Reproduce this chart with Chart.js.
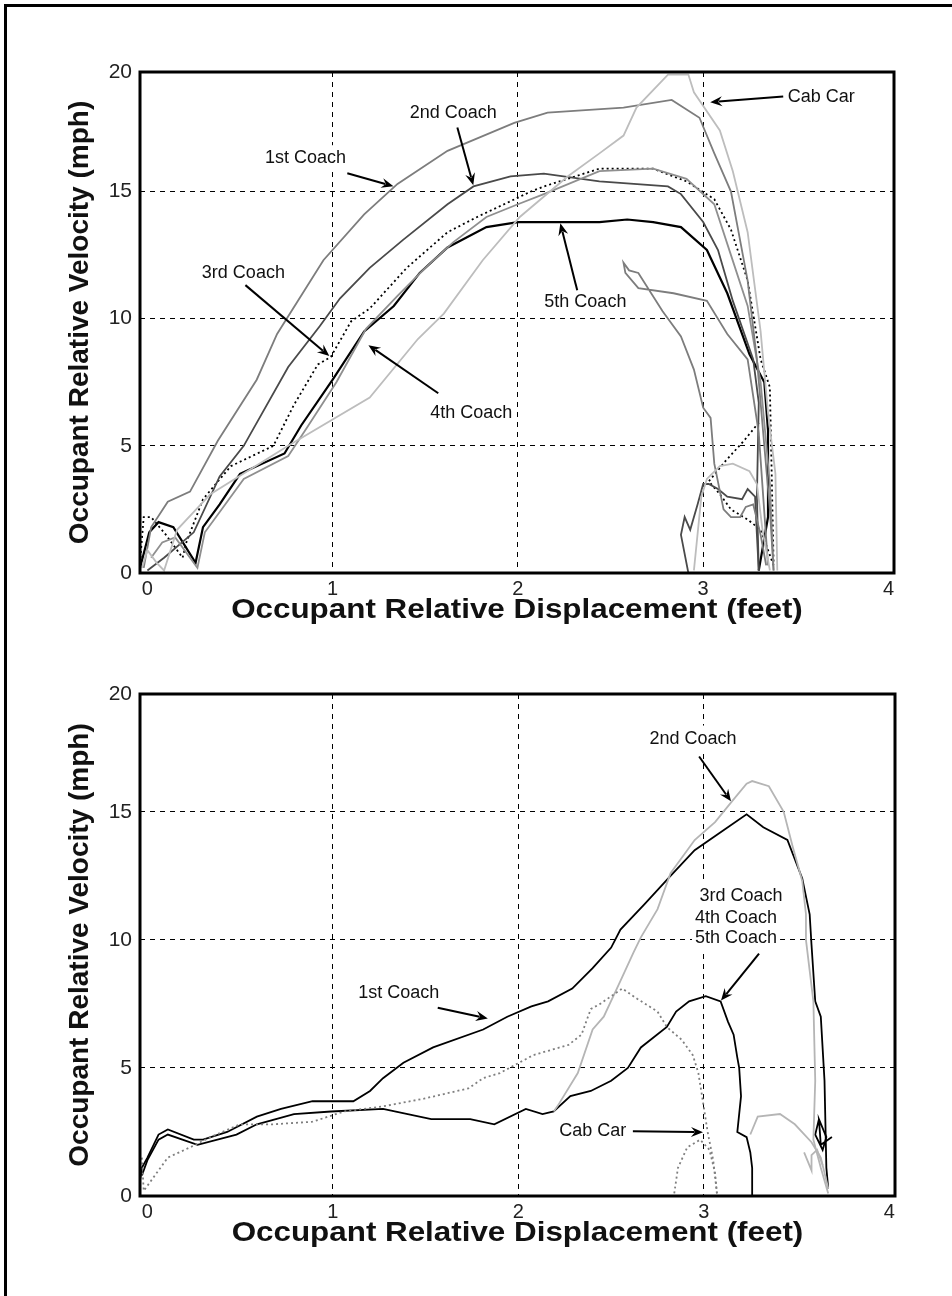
<!DOCTYPE html>
<html>
<head>
<meta charset="utf-8">
<script src="https://cdn.jsdelivr.net/npm/chart.js@4.4.0/dist/chart.umd.min.js"></script>
<style>
  body { margin: 0; background: #fff; }
  #page { position: relative; width: 952px; height: 1296px; overflow: hidden; background: #fff; }
  #frame { position: absolute; left: 4px; top: 4px; width: 1000px; height: 1400px; border: 3px solid #000; box-sizing: border-box; }
  canvas { position: absolute; left: 0; }
  #topChart { top: 0; }
  #bottomChart { top: 640px; }
</style>
</head>
<body>
<div id="page">
  <div id="frame"></div>
  <canvas id="topChart" width="952" height="640"></canvas>
  <canvas id="bottomChart" width="952" height="656"></canvas>
</div>
<script>
// ---- upper panel: displacement (ft) / velocity (mph) ----
const top1X = [-0.02, 0.02, 0.11, 0.23, 0.38, 0.59, 0.70, 0.95, 1.17, 1.35, 1.62, 1.98, 2.16, 2.57, 2.83, 2.98, 3.06, 3.15, 3.24, 3.29, 3.33, 3.36, 3.38];
const top1Y = [0.2, 1.8, 2.8, 3.2, 5.2, 7.6, 9.4, 12.3, 14.1, 15.3, 16.6, 17.7, 18.1, 18.3, 18.6, 17.9, 16.5, 15.0, 11.5, 8.4, 5.0, 2.5, 0.1];
const top1bX = [3.35, 3.30, 3.24, 3.13, 3.02, 2.84, 2.65, 2.58, 2.57, 2.60, 2.65, 2.78, 2.88, 2.95, 3.00, 3.04, 3.06, 3.11, 3.15, 3.20, 3.23, 3.27, 3.31, 3.34];
const top1bY = [0.3, 5.5, 8.4, 9.4, 10.7, 11.0, 11.2, 11.8, 12.2, 11.9, 11.8, 10.3, 9.3, 8.0, 6.5, 6.1, 4.3, 2.5, 2.2, 2.2, 2.6, 2.7, 1.5, 0.3];

const top2X = [0.00, 0.09, 0.25, 0.39, 0.52, 0.76, 0.93, 1.04, 1.20, 1.38, 1.62, 1.76, 1.96, 2.14, 2.44, 2.81, 2.88, 3.00, 3.08, 3.16, 3.27, 3.30, 3.29, 3.30];
const top2Y = [0.1, 0.6, 1.6, 3.8, 5.0, 8.1, 9.7, 10.8, 12.0, 13.1, 14.5, 15.2, 15.6, 15.7, 15.4, 15.2, 14.9, 13.8, 12.7, 10.7, 8.4, 6.7, 3.0, 0.1];
const top2bX = [2.92, 2.88, 2.90, 2.93, 2.97, 3.00, 3.03, 3.08, 3.13, 3.21, 3.24, 3.28, 3.29, 3.30];
const top2bY = [0.0, 1.5, 2.2, 1.7, 2.7, 3.5, 3.5, 3.3, 3.0, 2.9, 3.3, 3.0, 1.5, 0.1];

const top3X = [-0.04, -0.02, 0.02, 0.10, 0.19, 0.21, 0.30, 0.45, 0.68, 0.79, 0.92, 0.99, 1.10, 1.20, 1.40, 1.62, 1.78, 2.07, 2.14, 2.44, 2.73, 2.80, 2.91, 3.06, 3.15, 3.24, 3.31, 3.36, 3.38];
const top3Y = [0.4, 2.2, 2.2, 1.5, 0.6, 1.2, 2.9, 4.2, 5.0, 6.6, 8.2, 8.5, 9.9, 10.4, 12.0, 13.4, 14.0, 15.0, 15.2, 15.9, 15.9, 15.7, 15.4, 14.7, 13.5, 11.5, 8.4, 7.3, 0.4];
const top3bX = [3.38, 3.31, 3.24, 3.15, 3.09, 3.03, 3.12, 3.22, 3.31];
const top3bY = [0.3, 1.7, 2.1, 2.5, 3.1, 3.6, 4.4, 5.2, 6.0];

const top4X = [0.02, 0.08, 0.15, 0.27, 0.31, 0.40, 0.52, 0.76, 0.86, 1.02, 1.18, 1.35, 1.50, 1.65, 1.83, 2.00, 2.14, 2.44, 2.73, 2.91, 3.06, 3.15, 3.24, 3.31, 3.36, 3.38];
const top4Y = [0.6, 1.2, 1.4, 0.2, 1.6, 2.5, 3.7, 4.6, 5.7, 7.5, 9.6, 10.9, 12.0, 13.0, 14.0, 14.5, 14.9, 15.8, 15.9, 15.5, 14.5, 12.5, 10.5, 7.5, 3.5, 0.1];

const top5X = [-0.04, 0.01, 0.06, 0.14, 0.26, 0.30, 0.39, 0.50, 0.74, 0.83, 1.00, 1.17, 1.33, 1.47, 1.62, 1.83, 2.00, 2.44, 2.59, 2.73, 2.88, 3.02, 3.13, 3.25, 3.33, 3.35, 3.35, 3.30];
const top5Y = [0.2, 1.6, 2.0, 1.8, 0.4, 1.8, 2.7, 3.9, 4.7, 5.8, 7.6, 9.5, 10.5, 11.8, 12.8, 13.6, 13.8, 13.8, 13.9, 13.8, 13.6, 12.7, 11.0, 8.6, 7.5, 5.6, 2.2, 0.1];

const topCabX = [-0.03, 0.00, 0.05, 0.09, 0.16, 0.34, 0.76, 1.20, 1.46, 1.60, 1.81, 2.01, 2.27, 2.44, 2.57, 2.64, 2.81, 2.92, 2.95, 3.09, 3.16, 3.24, 3.31, 3.35, 3.39, 3.40];
const topCabY = [0.2, 0.9, 0.4, 0.1, 1.7, 3.1, 5.0, 6.9, 9.2, 10.2, 12.3, 14.0, 15.6, 16.5, 17.2, 18.3, 19.6, 19.6, 18.9, 17.4, 15.8, 13.4, 9.5, 6.3, 3.9, 0.1];
const topCabbX = [2.95, 2.99, 3.02, 3.09, 3.16, 3.25, 3.29, 3.32, 3.36];
const topCabbY = [0.1, 3.0, 3.7, 4.2, 4.3, 4.0, 3.5, 1.7, 0.1];

// ---- lower panel ----
const bot1X = [-0.05, -0.03, 0.00, 0.06, 0.11, 0.25, 0.30, 0.43, 0.59, 0.72, 0.89, 1.11, 1.20, 1.27, 1.38, 1.54, 1.81, 1.94, 2.07, 2.16, 2.29, 2.40, 2.50, 2.55, 2.68, 2.82, 2.95, 3.09, 3.23, 3.32, 3.45, 3.53, 3.57, 3.58, 3.60, 3.63, 3.65, 3.66, 3.67];
const bot1Y = [0.1, 1.1, 1.5, 2.4, 2.6, 2.2, 2.2, 2.5, 3.1, 3.4, 3.7, 3.7, 4.1, 4.6, 5.2, 5.8, 6.5, 7.0, 7.4, 7.6, 8.1, 8.9, 9.7, 10.4, 11.4, 12.5, 13.5, 14.2, 14.9, 14.4, 13.9, 12.4, 11.0, 9.8, 7.6, 7.0, 4.5, 1.1, 0.3];
const bot1bX = [3.62, 3.60, 3.64, 3.66, 3.62, 3.63, 3.69];
const bot1bY = [3.0, 2.4, 1.8, 2.3, 3.0, 2.0, 2.3];

const bot2X = [2.19, 2.21, 2.32, 2.40, 2.46, 2.55, 2.62, 2.66, 2.75, 2.82, 2.95, 3.06, 3.15, 3.23, 3.26, 3.35, 3.43, 3.48, 3.53, 3.55, 3.55, 3.59, 3.60, 3.59, 3.63, 3.67];
const bot2Y = [3.3, 3.5, 4.8, 6.5, 7.0, 8.4, 9.5, 10.1, 11.2, 12.6, 13.9, 14.6, 15.4, 16.1, 16.2, 16.0, 15.0, 13.6, 12.3, 11.0, 10.0, 7.6, 4.5, 2.2, 1.1, 0.1];
const bot2bX = [3.25, 3.29, 3.41, 3.49, 3.58, 3.63, 3.67];
const bot2bY = [2.4, 3.1, 3.2, 2.8, 2.1, 1.5, 0.3];
const bot2cX = [3.54, 3.58, 3.58, 3.61, 3.64];
const bot2cY = [1.7, 1.0, 1.6, 1.8, 1.2];

const bot345X = [-0.03, 0.00, 0.06, 0.11, 0.27, 0.48, 0.59, 0.79, 0.99, 1.27, 1.53, 1.74, 1.87, 2.04, 2.13, 2.19, 2.28, 2.39, 2.50, 2.59, 2.66, 2.80, 2.85, 2.92, 3.01, 3.09, 3.13, 3.16, 3.18, 3.19, 3.20, 3.18, 3.23, 3.25, 3.26, 3.26];
const bot345Y = [0.8, 1.4, 2.2, 2.4, 2.0, 2.4, 2.8, 3.2, 3.3, 3.4, 3.0, 3.0, 2.8, 3.4, 3.2, 3.3, 3.9, 4.1, 4.5, 5.0, 5.8, 6.6, 7.2, 7.6, 7.8, 7.6, 6.8, 6.3, 5.4, 5.0, 3.9, 2.5, 2.3, 1.7, 1.1, 0.0];

const botCabX = [-0.03, -0.02, 0.02, 0.11, 0.23, 0.34, 0.50, 0.68, 0.89, 1.06, 1.27, 1.49, 1.73, 1.81, 1.90, 2.08, 2.27, 2.34, 2.39, 2.44, 2.56, 2.64, 2.75, 2.80, 2.88, 2.94, 2.97, 2.99, 3.02, 3.05, 3.07];
const botCabY = [1.5, 0.2, 0.6, 1.5, 1.9, 2.3, 2.8, 2.8, 2.9, 3.3, 3.5, 3.8, 4.2, 4.6, 4.8, 5.5, 5.9, 6.3, 7.3, 7.5, 8.1, 7.7, 7.2, 6.6, 6.1, 5.5, 4.8, 3.9, 2.5, 1.4, 0.1];
const botCabbX = [2.84, 2.86, 2.91, 2.98, 3.03, 3.06, 3.07];
const botCabbY = [0.1, 1.1, 1.9, 2.2, 1.8, 0.9, 0.1];

// axis ticks and titles
const xTicks = [0, 1, 2, 3, 4];
const yTicks = [0, 5, 10, 15, 20];
const xTitleText = 'Occupant Relative Displacement (feet)';
const yTitleText = 'Occupant Relative Velocity (mph)';

// callout labels (text, x, y in data units) and arrows (from -> to)
const topLabelText = ['1st Coach', '2nd Coach', '3rd Coach', '4th Coach', '5th Coach', 'Cab Car'];
const topLabelX = [0.853, 1.651, 0.518, 1.748, 2.364, 3.637];
const topLabelY = [16.31, 18.07, 11.79, 6.29, 10.65, 18.70];
const topArrowFrom = [[1.079, 15.72], [1.673, 17.52], [0.529, 11.32], [1.570, 7.07], [2.320, 11.12], [3.432, 18.74]];
const topArrowTo = [[1.328, 15.21], [1.759, 15.25], [0.982, 8.53], [1.193, 8.96], [2.229, 13.75], [3.038, 18.51]];

const botLabelText = ['2nd Coach', '3rd Coach', '4th Coach', '5th Coach', '1st Coach', 'Cab Car'];
const botLabelX = [2.941, 3.200, 3.173, 3.173, 1.355, 2.401];
const botLabelY = [17.86, 11.71, 10.86, 10.08, 7.94, 2.53];
const botArrowFrom = [[2.974, 17.16], [3.297, 9.46], [1.565, 7.35], [2.617, 2.53]];
const botArrowTo = [[3.146, 15.41], [3.092, 7.63], [1.835, 6.93], [2.995, 2.49]];

const FONT = "'Liberation Sans', Arial, Helvetica, sans-serif";

function pts(xs, ys) {
  return xs.map((x, i) => ({ x: x, y: ys[i] }));
}

function series(label, xs, ys, color, width, dash) {
  return {
    label: label,
    data: pts(xs, ys),
    showLine: true,
    borderColor: color,
    borderWidth: width,
    borderDash: dash || [],
    pointRadius: 0,
    fill: false,
    tension: 0
  };
}

// thick box round the plot area
const frameBox = {
  id: 'frameBox',
  afterDraw(chart) {
    const a = chart.chartArea;
    const ctx = chart.ctx;
    ctx.save();
    ctx.strokeStyle = '#000';
    ctx.lineWidth = 3;
    ctx.strokeRect(a.left, a.top, a.right - a.left, a.bottom - a.top);
    ctx.restore();
  }
};

// x axis title, drawn a little wide like the original plot
const wideTitle = {
  id: 'wideTitle',
  afterDraw(chart, args, opts) {
    const a = chart.chartArea;
    const ctx = chart.ctx;
    ctx.save();
    ctx.font = 'bold ' + opts.size + 'px ' + FONT;
    ctx.fillStyle = '#111';
    ctx.textAlign = 'center';
    ctx.textBaseline = 'middle';
    ctx.translate((a.left + a.right) / 2, a.bottom + opts.offset);
    ctx.scale(opts.stretch, 1);
    ctx.fillText(opts.text, 0, 0);
    ctx.restore();
  }
};

// text callouts with arrows; white boxes behind the text cover the grid
const callouts = {
  id: 'callouts',
  beforeDatasetsDraw(chart, args, opts) {
    const ctx = chart.ctx;
    const sx = chart.scales.x, sy = chart.scales.y;
    ctx.save();
    ctx.font = opts.size + 'px ' + FONT;
    ctx.fillStyle = '#fff';
    opts.text.forEach((t, i) => {
      const w = ctx.measureText(t).width;
      const px = sx.getPixelForValue(opts.x[i]);
      const py = sy.getPixelForValue(opts.y[i]);
      ctx.fillRect(px - w / 2 - 3, py - opts.size / 2 - 4, w + 6, opts.size + 8);
    });
    ctx.restore();
  },
  afterDatasetsDraw(chart, args, opts) {
    const ctx = chart.ctx;
    const sx = chart.scales.x, sy = chart.scales.y;
    ctx.save();
    ctx.font = opts.size + 'px ' + FONT;
    ctx.fillStyle = '#111';
    ctx.textAlign = 'center';
    ctx.textBaseline = 'middle';
    opts.text.forEach((t, i) => {
      ctx.fillText(t, sx.getPixelForValue(opts.x[i]), sy.getPixelForValue(opts.y[i]));
    });
    ctx.strokeStyle = '#000';
    ctx.fillStyle = '#000';
    ctx.lineWidth = 2;
    opts.from.forEach((f, i) => {
      const x1 = sx.getPixelForValue(f[0]), y1 = sy.getPixelForValue(f[1]);
      const x2 = sx.getPixelForValue(opts.to[i][0]), y2 = sy.getPixelForValue(opts.to[i][1]);
      const ang = Math.atan2(y2 - y1, x2 - x1);
      const head = 12, half = 5;
      ctx.beginPath();
      ctx.moveTo(x1, y1);
      ctx.lineTo(x2 - Math.cos(ang) * head * 0.7, y2 - Math.sin(ang) * head * 0.7);
      ctx.stroke();
      ctx.beginPath();
      ctx.moveTo(x2, y2);
      ctx.lineTo(x2 - Math.cos(ang) * head + Math.sin(ang) * half, y2 - Math.sin(ang) * head - Math.cos(ang) * half);
      ctx.lineTo(x2 - Math.cos(ang) * head * 0.65, y2 - Math.sin(ang) * head * 0.65);
      ctx.lineTo(x2 - Math.cos(ang) * head - Math.sin(ang) * half, y2 - Math.sin(ang) * head + Math.cos(ang) * half);
      ctx.closePath();
      ctx.fill();
    });
    ctx.restore();
  }
};

function makeOptions(yTop, pad, labels) {
  return {
    responsive: false,
    animation: false,
    layout: { padding: pad },
    plugins: {
      legend: { display: false },
      tooltip: { enabled: false },
      callouts: labels,
      wideTitle: { text: xTitleText, size: 28, stretch: 1.12, offset: 37 }
    },
    scales: {
      x: {
        type: 'linear',
        min: -0.04,
        max: 4.03,
        afterBuildTicks: s => { s.ticks = xTicks.map(v => ({ value: v })); },
        afterFit: s => { s.height = 50; },
        ticks: { padding: 4, color: '#222', font: { family: FONT, size: 20 } },
        grid: {
          drawTicks: false,
          lineWidth: 1,
          color: c => (c.tick && (c.tick.value === 0 || c.tick.value === 4)) ? 'rgba(0,0,0,0)' : '#000'
        },
        border: { display: false, dash: [5, 5] }
      },
      y: {
        type: 'linear',
        min: 0,
        max: yTop,
        afterBuildTicks: s => {
          s.ticks = yTicks.map(v => ({ value: v === 20 ? yTop : v }));
        },
        afterFit: s => { s.width = 76; },
        ticks: {
          padding: 8,
          color: '#222',
          font: { family: FONT, size: 21 },
          callback: v => (v > 19 ? '20' : String(v))
        },
        grid: {
          drawTicks: false,
          lineWidth: 1,
          color: c => (c.tick && (c.tick.value === 0 || c.tick.value > 19)) ? 'rgba(0,0,0,0)' : '#000'
        },
        border: { display: false, dash: [5, 5] },
        title: {
          display: true,
          text: yTitleText,
          color: '#111',
          font: { family: FONT, size: 28, weight: 'bold', lineHeight: 1 },
          padding: { top: 2, bottom: 0 }
        }
      }
    }
  };
}

new Chart(document.getElementById('topChart'), {
  type: 'scatter',
  data: {
    datasets: [
      series('Cab Car', topCabX, topCabY, '#bdbdbd', 1.8),
      series('Cab Car', topCabbX, topCabbY, '#bdbdbd', 1.8),
      series('1st Coach', top1X, top1Y, '#7d7d7d', 1.8),
      series('1st Coach', top1bX, top1bY, '#7d7d7d', 1.8),
      series('4th Coach', top4X, top4Y, '#8f8f8f', 1.8),
      series('2nd Coach', top2X, top2Y, '#4a4a4a', 1.8),
      series('2nd Coach', top2bX, top2bY, '#4a4a4a', 1.8),
      series('3rd Coach', top3X, top3Y, '#000', 1.8, [2, 3]),
      series('3rd Coach', top3bX, top3bY, '#000', 1.8, [2, 3]),
      series('5th Coach', top5X, top5Y, '#000', 2.2)
    ]
  },
  // plot box: 140..894 x 72..573
  options: makeOptions(19.7, { left: 64, right: 58, top: 72, bottom: 17 }, {
    size: 18, text: topLabelText, x: topLabelX, y: topLabelY, from: topArrowFrom, to: topArrowTo
  }),
  plugins: [frameBox, callouts, wideTitle]
});

new Chart(document.getElementById('bottomChart'), {
  type: 'scatter',
  data: {
    datasets: [
      series('Cab Car', botCabX, botCabY, '#7f7f7f', 1.8, [2, 3]),
      series('Cab Car', botCabbX, botCabbY, '#7f7f7f', 1.8, [2, 3]),
      series('2nd Coach', bot2X, bot2Y, '#b5b5b5', 1.8),
      series('2nd Coach', bot2bX, bot2bY, '#b5b5b5', 1.8),
      series('2nd Coach', bot2cX, bot2cY, '#b5b5b5', 1.8),
      series('3rd-5th Coach', bot345X, bot345Y, '#000', 1.8),
      series('1st Coach', bot1X, bot1Y, '#000', 1.8),
      series('1st Coach', bot1bX, bot1bY, '#000', 1.8)
    ]
  },
  // plot box: 140..895 x 694..1196 on the page
  options: makeOptions(19.6, { left: 64, right: 57, top: 54, bottom: 50 }, {
    size: 18, text: botLabelText, x: botLabelX, y: botLabelY, from: botArrowFrom, to: botArrowTo
  }),
  plugins: [frameBox, callouts, wideTitle]
});
</script>
</body>
</html>
